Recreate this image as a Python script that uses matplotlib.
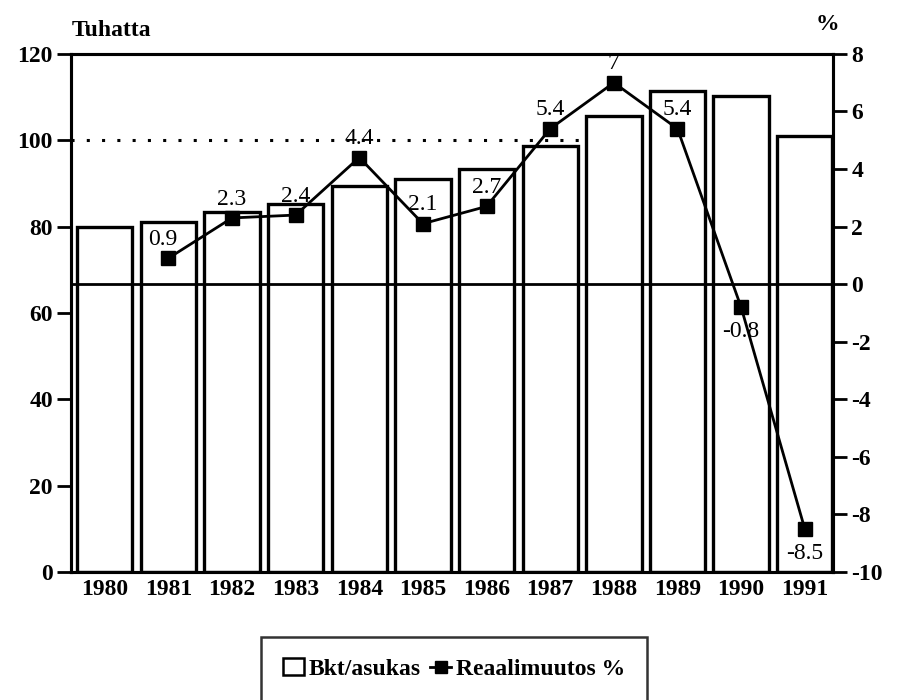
import numpy as np
import matplotlib.pyplot as plt
from matplotlib.patches import Patch
from matplotlib.lines import Line2D

plt.rcParams['font.family'] = ['Liberation Serif', 'DejaVu Serif']
plt.rcParams['axes.unicode_minus'] = False

# Data
years = ['1980', '1981', '1982', '1983', '1984', '1985',
         '1986', '1987', '1988', '1989', '1990', '1991']
bkt = [80, 81, 83.3, 85.2, 89.3, 91, 93.3, 98.6, 105.6, 111.4, 110.2, 101]
change_years = years[1:]
change = [0.9, 2.3, 2.4, 4.4, 2.1, 2.7, 5.4, 7, 5.4, -0.8, -8.5]
change_labels = ['0.9', '2.3', '2.4', '4.4', '2.1', '2.7', '5.4', '7', '5.4', '-0.8', '-8.5']

x = np.arange(len(years))
xc = np.arange(1, len(years))

fig = plt.figure(figsize=(8.99, 7.0), dpi=100)
ax = fig.add_axes([0.079, 0.183, 0.848, 0.740])

ax.bar(x, bkt, width=0.87, color='white', edgecolor='black', linewidth=2.4, zorder=2)

# dotted reference line at 100
ax.plot([-0.53, 7.45], [100, 100], color='black', linestyle=(0, (1, 4)),
        linewidth=2.2, zorder=1)

ax.set_xlim(-0.53, 11.45)
ax.set_ylim(0, 120)
ax.set_yticks(range(0, 121, 20))
ax.set_xticks(x)
ax.set_xticklabels(years)
ax.tick_params(axis='y', direction='out', length=10, width=2, labelsize=17, pad=3)
ax.tick_params(axis='x', length=0, labelsize=17, pad=5)
for lab in ax.get_yticklabels() + ax.get_xticklabels():
    lab.set_fontweight('bold')
for s in ax.spines.values():
    s.set_linewidth(2.2)

ax2 = ax.twinx()
ax2.set_ylim(-10, 8)
ax2.set_yticks(range(-10, 9, 2))
ax2.tick_params(axis='y', direction='out', length=10, width=2, labelsize=17, pad=3)
for lab in ax2.get_yticklabels():
    lab.set_fontweight('bold')
for s in ax2.spines.values():
    s.set_linewidth(2.2)

ax2.axhline(0, color='black', linewidth=2, zorder=3)
ax2.plot(xc, change, color='black', linewidth=2, marker='s', markersize=10, zorder=4)

for xi, v, t in zip(xc, change, change_labels):
    if v < 0:
        ax2.annotate(t, (xi, v), xytext=(0, -10), textcoords='offset points',
                     ha='center', va='top', fontsize=17)
    else:
        dx = -4 if t == '0.9' else 0
        ax2.annotate(t, (xi, v), xytext=(dx, 6), textcoords='offset points',
                     ha='center', va='bottom', fontsize=17)

fig.text(0.08, 0.957, 'Tuhatta', fontsize=17, fontweight='bold', ha='left', va='center')
fig.text(0.92, 0.965, '%', fontsize=17, fontweight='bold', ha='center', va='center')

handles = [Patch(facecolor='white', edgecolor='black', linewidth=1.8),
           Line2D([], [], color='black', linewidth=2, marker='s', markersize=9)]
leg = fig.legend(handles, ['Bkt/asukas', 'Reaalimuutos %'], loc='upper center',
                 bbox_to_anchor=(0.505, 1 - 637 / 700), ncol=2, fontsize=17,
                 frameon=True, fancybox=False, edgecolor='black', borderpad=0.9,
                 borderaxespad=0, handlelength=0.9, handletextpad=0.2,
                 columnspacing=0.4)
leg.get_frame().set_linewidth(1.8)
for t in leg.get_texts():
    t.set_fontweight('bold')

fig.savefig('out.png', dpi=100)
